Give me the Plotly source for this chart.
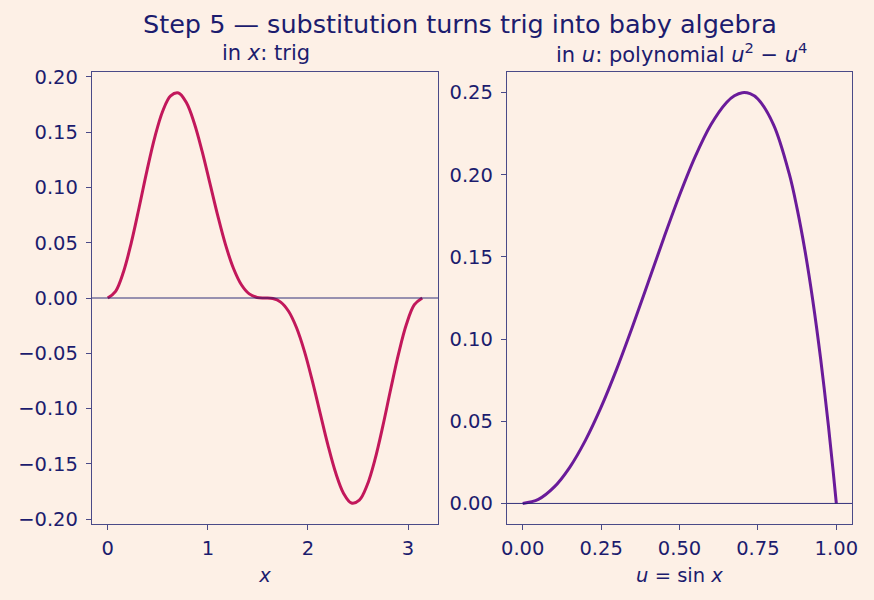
import plotly.graph_objects as go

# ---- data ----
x_vals = [0.0, 0.0785, 0.1571, 0.2356, 0.3142, 0.3927, 0.4712, 0.5498, 0.6283, 0.7069,
          0.7854, 0.8639, 0.9425, 1.0210, 1.0996, 1.1781, 1.2566, 1.3352, 1.4137, 1.4923,
          1.5708, 1.6493, 1.7279, 1.8064, 1.8850, 1.9635, 2.0420, 2.1206, 2.1991, 2.2777,
          2.3562, 2.4347, 2.5133, 2.5918, 2.6704, 2.7489, 2.8274, 2.9060, 2.9845, 3.0631,
          3.1416]
fx_vals = [0.0, 0.0061, 0.0236, 0.0501, 0.0821, 0.1155, 0.1458, 0.1692, 0.1829, 0.1855,
           0.1768, 0.1584, 0.1329, 0.1037, 0.0743, 0.0478, 0.0267, 0.0120, 0.0037, 0.0005,
           0.0, -0.0005, -0.0037, -0.0120, -0.0267, -0.0478, -0.0743, -0.1037, -0.1329, -0.1584,
           -0.1768, -0.1855, -0.1829, -0.1692, -0.1458, -0.1155, -0.0821, -0.0501, -0.0236, -0.0061,
           0.0]

u_vals = [0.0, 0.05, 0.1, 0.15, 0.2, 0.25, 0.3, 0.35, 0.4, 0.45, 0.5, 0.55, 0.6, 0.65,
          0.675, 0.7, 0.725, 0.75, 0.8, 0.85, 0.875, 0.9, 0.925, 0.95, 0.975, 0.99, 1.0]
gu_vals = [0.0, 0.0025, 0.0099, 0.0220, 0.0384, 0.0586, 0.0819, 0.1075, 0.1344, 0.1615,
           0.1875, 0.2110, 0.2304, 0.2440, 0.2480, 0.2499, 0.2493, 0.2461, 0.2304, 0.2005,
           0.1794, 0.1539, 0.1235, 0.0880, 0.0469, 0.0195, 0.0]

left_yticks = [-0.20, -0.15, -0.10, -0.05, 0.0, 0.05, 0.10, 0.15, 0.20]
left_xticks = [0, 1, 2, 3]
right_yticks = [0.0, 0.05, 0.10, 0.15, 0.20, 0.25]
right_xticks = [0.0, 0.25, 0.5, 0.75, 1.0]

title_text = "Step 5 \u2014 substitution turns trig into baby algebra"
left_sub = "in <i>x</i>: trig"
right_sub = "in <i>u</i>: polynomial <i>u</i><sup>2</sup> \u2212 <i>u</i><sup>4</sup>"
left_xlabel = "<i>x</i>"
right_xlabel = "<i>u</i> = sin <i>x</i>"

# ---- style ----
BG = "#fdf0e6"
TXT = "#1c1c6e"
SPINE = "#4a4a88"
C1 = "#c2185b"
C2 = "#6a1b9a"
FONT = "DejaVu Sans"

fig = go.Figure()
fig.add_trace(go.Scatter(x=x_vals, y=fx_vals, mode="lines",
                         line=dict(color=C1, width=3, shape="spline", smoothing=1.0),
                         xaxis="x", yaxis="y", showlegend=False))
fig.add_trace(go.Scatter(x=u_vals, y=gu_vals, mode="lines",
                         line=dict(color=C2, width=3, shape="spline", smoothing=1.0),
                         xaxis="x2", yaxis="y2", showlegend=False))

axis_common = dict(showline=True, mirror=True, linecolor=SPINE, linewidth=1.3,
                   ticks="outside", ticklen=5, tickwidth=1.2, tickcolor=SPINE,
                   showgrid=False, zeroline=False, automargin=False,
                   tickfont=dict(family=FONT, size=19.5, color=TXT))

fig.update_layout(
    width=874, height=600,
    paper_bgcolor=BG, plot_bgcolor=BG,
    margin=dict(l=0, r=0, t=0, b=0, pad=0),
    font=dict(family=FONT, color=TXT),
    xaxis=dict(domain=[92/874, 438/874], range=[-0.157, 3.299],
               tickvals=left_xticks, ticktext=[str(v) for v in left_xticks],
               ticklabelstandoff=1,
               title=dict(text=left_xlabel, font=dict(family=FONT, size=19.5, color=TXT), standoff=9),
               anchor="y", **axis_common),
    yaxis=dict(domain=[1-524/600, 1-72/600], range=[-0.2045, 0.2045],
               tickvals=left_yticks, tickformat=".2f", ticklabelstandoff=4,
               anchor="x", **axis_common),
    xaxis2=dict(domain=[507/874, 852/874], range=[-0.05, 1.05],
                tickvals=right_xticks, tickformat=".2f", ticklabelstandoff=1,
                title=dict(text=right_xlabel, font=dict(family=FONT, size=19.5, color=TXT), standoff=9),
                anchor="y2", **axis_common),
    yaxis2=dict(domain=[1-524/600, 1-72/600], range=[-0.0125, 0.2625],
                tickvals=right_yticks, tickformat=".2f", ticklabelstandoff=4,
                anchor="x2", **axis_common),
    shapes=[
        dict(type="line", xref="x domain", yref="y", x0=0, x1=1, y0=0, y1=0,
             line=dict(color=TXT, width=0.9)),
        dict(type="line", xref="x2 domain", yref="y2", x0=0, x1=1, y0=0, y1=0,
             line=dict(color=TXT, width=0.9)),
    ],
    annotations=[
        dict(text=title_text, x=460/874, y=1-24/600, xref="paper", yref="paper",
             xanchor="center", yanchor="middle", showarrow=False,
             font=dict(family=FONT, size=25.5, color=TXT)),
        dict(text=left_sub, x=266/874, y=1-53/600, xref="paper", yref="paper",
             xanchor="center", yanchor="middle", showarrow=False,
             font=dict(family=FONT, size=21, color=TXT)),
        dict(text=right_sub, x=681/874, y=1-53/600, xref="paper", yref="paper",
             xanchor="center", yanchor="middle", showarrow=False,
             font=dict(family=FONT, size=21, color=TXT)),
    ],
)

fig.write_html("out.html")
